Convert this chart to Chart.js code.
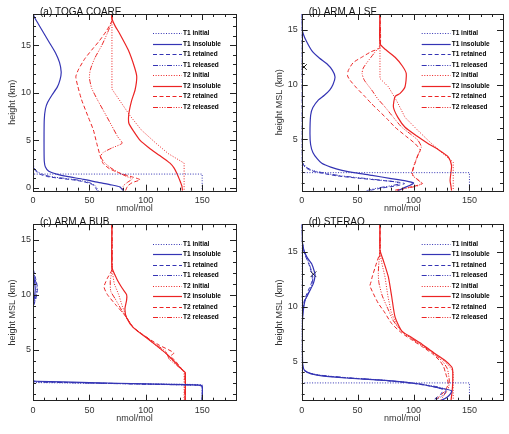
<!DOCTYPE html>
<html>
<head>
<meta charset="utf-8">
<script src="https://cdn.jsdelivr.net/npm/chart.js@4"></script>
<style>
  body { margin: 0; background: #fff; width: 509px; height: 434px; overflow: hidden; position: relative; }
  .panel { position: absolute; }
</style>
</head>
<body>
<div class="panel" style="left:0;top:0"><canvas id="chartA" width="255" height="217"></canvas></div>
<div class="panel" style="left:255px;top:0"><canvas id="chartB" width="254" height="217"></canvas></div>
<div class="panel" style="left:0;top:210px"><canvas id="chartC" width="255" height="217"></canvas></div>
<div class="panel" style="left:255px;top:210px"><canvas id="chartD" width="254" height="217"></canvas></div>
<script>
// panel titles, axis titles, ticks
const panelTitles = ["(a) TOGA COARE", "(b) ARM A LSF", "(c) ARM A BUB", "(d) STERAO"];
const yTitles = ["height (km)", "height MSL (km)", "height MSL (km)", "height MSL (km)"];
const xTitle = "nmol/mol";
const seriesLabels = ["T1 initial", "T1 insoluble", "T1 retained", "T1 released",
                      "T2 initial", "T2 insoluble", "T2 retained", "T2 released"];
const xTicks = [0, 50, 100, 150];
const yTicks = [0, 5, 10, 15];
const xRange = [0, 180];
const yRanges = [[-0.3, 18.3], [0.3, 16.45], [0.35, 16.4], [1.43, 17.5]];

// profiles as [nmol/mol, height km]
// (a) TOGA COARE
const aT1Initial = [[0,18.3],[0,1.45],[150,1.45],[150,-0.3]];
const aT1Insoluble = [[0,18.3],[2,17.8],[5,17.2],[10,16.2],[15,15.2],[20,14.2],[23.5,13.2],[25,12.2],[24,11.4],[21.5,10.6],[17,9.8],[13,9.0],[11,8.3],[10,7.2],[9.8,5.7],[9.8,4.0],[10,2.8],[11,2.2],[14,1.75],[21,1.45],[30,1.2],[45,0.9],[57,0.6],[70,0.3],[77,0.1],[80,-0.3]];
const aT1Retained = [[0,18.3],[0,2.4],[1,2.0],[3,1.7],[6,1.45],[12,1.2],[24,1.0],[38,0.8],[48,0.55],[54,0.25],[57,-0.3]];
const aT1Released = [[0.5,18.3],[0.5,2.4],[1.5,2.0],[4,1.7],[8,1.45],[15,1.2],[28,1.0],[41,0.8],[50,0.55],[55,0.25],[58,-0.3]];
const aT2Initial = [[70,18.3],[70,10.4],[78,9.0],[86,7.6],[96,6.1],[109,4.7],[120,3.6],[134,2.6],[134,-0.3]];
const aT2Insoluble = [[70,18.3],[70,17.8],[73,17.0],[77,16.2],[84.5,14.5],[90,12.7],[92,11.7],[90.5,10.3],[87.5,9.2],[85,7.8],[85,6.8],[89,6.0],[95,5.0],[103,4.2],[110,3.6],[116,3.1],[121.5,2.6],[125,2.1],[127.5,1.54],[130,0.84],[132,0.2],[132.5,-0.3]];
const aT2Retained = [[70,18.3],[70,17.6],[65,16.5],[59,15.5],[52,14.5],[46,13.6],[40.5,12.5],[38,11.7],[39.5,10.8],[43,9.3],[48.5,7.6],[53.5,6.1],[56.5,4.7],[59,3.6],[62,2.6],[68,2.0],[77,1.55],[88,1.15],[95,0.85],[88,0.55],[84,0.2],[82,-0.3]];
const aT2Released = [[70,18.3],[70,17.6],[66,16.3],[61,15],[55,13.7],[51,12.5],[50,11.6],[52,10.5],[57,9.3],[64,7.8],[70,6.5],[75,5.4],[79,4.7],[70,4.2],[62,3.7],[60,3.3],[63,2.7],[69,2.1],[76,1.6],[83,1.2],[88,0.95],[84,0.6],[80,0.2],[79.5,-0.3]];

// (b) ARM A LSF
const bT1Initial = [[0,16.45],[0,1.95],[150,1.95],[150,0.3]];
const bT1Insoluble = [[0,16.45],[0,15.2],[1.5,14.6],[4,14.0],[9,13.1],[16,12.4],[22.5,11.9],[27.5,11.3],[29.8,10.7],[28,10.0],[25,9.5],[20,9.0],[15,8.6],[10,7.9],[8,7.2],[7.4,5.5],[8,4.5],[10,3.8],[14,3.2],[18,2.8],[26,2.45],[36,2.16],[50,1.9],[63,1.7],[80,1.4],[93,1.2],[100,1.0],[97,0.8],[91,0.55],[86,0.3]];
const bT1Retained = [[0,16.45],[0,3.2],[1,2.8],[3,2.45],[8,2.15],[18,1.9],[32,1.65],[50,1.45],[70,1.25],[85,1.1],[92,0.95],[85,0.75],[72,0.55],[60,0.3]];
const bT1Released = [[0.5,16.45],[0.5,3.2],[1.5,2.8],[4,2.45],[10,2.15],[21,1.9],[36,1.65],[54,1.45],[72,1.25],[84,1.1],[88,0.95],[80,0.75],[68,0.55],[58,0.3]];
const bMarker = [[2,11.6]];
const bT2Initial = [[70,16.45],[70,10.55],[77.5,9.8],[85,8.5],[92.4,7.0],[103,5.9],[113,4.9],[124,3.9],[135.5,2.9],[135.5,0.3]];
const bT2Insoluble = [[70,16.45],[70,13.75],[75,13.2],[83.5,12.5],[90,11.7],[93.5,11.0],[92.4,9.8],[88,9.2],[83.5,8.9],[82,7.95],[86,7.0],[92.4,6.1],[103,5.3],[113.2,4.6],[123,4.0],[131,3.4],[134,2.6],[133.5,2.0],[132.7,1.24],[133.5,0.7],[134,0.3]];
const bT2Retained = [[70,16.45],[70,13.4],[62,13.0],[53.7,12.5],[46,12.0],[41.7,11.3],[41,10.8],[43.2,10.4],[49,9.7],[56.6,8.9],[62,8.3],[68.5,7.65],[76,6.9],[83.5,6.1],[93,5.3],[101.4,4.6],[106,4.0],[104,3.6],[102,3.0],[100,2.4],[99,1.9],[99.5,1.7],[104,1.3],[108,0.95],[100,0.7],[90,0.5],[82,0.3]];
const bT2Released = [[70,16.45],[70,13.6],[65,12.9],[59,12.1],[55,11.5],[54,11.0],[56,10.4],[62.6,9.5],[68,8.7],[74.5,7.95],[82,7.0],[89.5,6.1],[97,5.5],[104,4.9],[107,4.3],[105,3.8],[103,3.3],[101,2.8],[99.5,2.3],[98.5,1.9],[99,1.7],[103,1.35],[107,1.0],[104,0.75],[95,0.55],[85,0.3]];

// (c) ARM A BUB
const cT1Initial = [[0,16.4],[0,2.0],[150,1.82],[150,0.35]];
const cT1Insoluble = [[0,16.4],[0,12.3],[1,11.5],[2,10.5],[1,9.5],[0,8.7],[0,2.2],[3,2.12],[50,2.0],[100,1.88],[147,1.78],[150,1.68],[150,0.35]];
const cT1Retained = [[0,16.4],[0,12.5],[2,11.6],[4,10.6],[2.5,9.6],[0,8.8],[0,2.18],[3,2.08],[50,1.97],[100,1.86],[146,1.76],[150,1.65],[150,0.35]];
const cT1Released = [[0,16.4],[0,12.4],[1.5,11.6],[3.5,10.6],[2,9.6],[0,8.8],[0,2.15],[3,2.06],[50,1.95],[100,1.85],[146,1.75],[150,1.64],[150,0.35]];
const cT2Initial = [[70,16.4],[70,12.3],[72,11.0],[76,10.0],[79,9.0],[83,7.9],[89,7.0],[104,5.8],[118.5,4.6],[133.5,3.0],[134,2.9],[134,0.35]];
const cT2Insoluble = [[70,16.4],[70,12.5],[74,11.5],[79,10.6],[83,10.0],[83,9.5],[81.5,8.7],[83,7.9],[89,7.0],[104,5.8],[118.5,4.6],[133,3.1],[135,2.9],[135,0.35]];
const cT2Retained = [[70,16.4],[70,12.3],[66,11.5],[63,10.7],[66,10.0],[74,9.0],[80,8.3],[83,7.9],[89,7.0],[98,6.3],[112,5.4],[125,4.7],[122,4.4],[126,4.0],[133,3.1],[135,2.9],[135,0.35]];
const cT2Released = [[70,16.4],[70,12.3],[68.5,11.2],[69,10.3],[73,9.6],[78,8.7],[83,7.9],[89,7.0],[100,6.2],[110,5.4],[118,4.8],[120,4.3],[121,4.1],[133,3.1],[134.5,2.9],[134.5,0.35]];

// (d) STERAO
const dT1Initial = [[0,17.5],[0,3.05],[150,3.05],[150,1.43]];
const dT1Insoluble = [[0,17.5],[0.5,16.0],[1.5,15.3],[3,14.85],[6,14.3],[8.9,13.9],[11.3,13.2],[11.9,12.8],[10.4,12.1],[7.5,11.5],[5,11.0],[3,10.6],[1.5,9.7],[0.6,8.5],[0.6,6.6],[0.8,4.9],[1.5,4.4],[3,4.15],[8,3.9],[18,3.7],[40,3.5],[77.5,3.26],[105,2.95],[125,2.55],[134,2.34],[133,2.05],[129.7,1.73],[124,1.43]];
const dT1Retained = [[0,17.5],[0.5,16.0],[1.5,15.3],[3,14.7],[6,14.0],[8.5,13.2],[9.5,12.7],[8.5,12.1],[6,11.5],[3.5,10.9],[2,10.4],[1,9.7],[0.6,8.5],[0.6,5],[1,4.5],[2,4.2],[6,3.95],[15,3.75],[35,3.55],[70,3.3],[100,3.0],[118,2.7],[126,2.45],[125,2.1],[121,1.75],[117,1.43]];
const dT1Released = [[0,17.5],[0.5,16.0],[2,15.2],[4,14.6],[7,13.8],[9.5,13.0],[10,12.6],[9,12.0],[6.5,11.4],[4,10.8],[2.2,10.3],[1,9.7],[0.6,8.5],[0.6,5],[1,4.5],[2.5,4.2],[7,3.95],[17,3.75],[38,3.55],[73,3.3],[103,3.0],[121,2.7],[129,2.45],[128,2.1],[124,1.75],[119,1.43]];
const dMarker = [[10.5,12.95]];
const dT2Initial = [[70,17.5],[70,14.8],[72,13.8],[74.5,12.7],[77,11.0],[80,9.5],[85,8.3],[92,7.5],[106,6.6],[118,5.8],[128,5.0],[134,4.3],[135.5,4.0],[135.5,1.43]];
const dT2Insoluble = [[70,17.5],[70,15.15],[73,14.2],[77.5,12.7],[80.5,10.9],[83.5,9.05],[89.4,7.8],[98,7.2],[107.3,6.6],[118,5.8],[128.2,5.1],[134.2,4.5],[135,4.2],[135,3.0],[134.5,2.3],[133.5,1.43]];
const dT2Retained = [[70,17.5],[70,15.0],[67,14.0],[63,12.7],[62,12.25],[61,11.9],[64,11.2],[68.5,10.3],[74,9.5],[80.5,8.45],[89.4,7.6],[98,7.0],[107,6.4],[117,5.7],[124,5.0],[127,4.5],[128.5,4.0],[129.7,3.6],[131,2.95],[128,2.3],[123,1.8],[119,1.43]];
const dT2Released = [[70,17.5],[70,15.0],[69,14.0],[68.5,13.0],[69,12.2],[72,11.0],[77.5,9.7],[82,8.7],[89,7.8],[98,7.1],[107,6.5],[117,5.8],[126,5.0],[130,4.4],[131,4.0],[132,3.2],[131,2.5],[127,1.9],[124,1.43]];

const blue = "#3434b4";
const red = "#ec2424";
const lineDashes = [[1, 1.6], [], [4, 2.5], [5, 1.5, 1, 1.5, 1, 1.5, 1, 1.5]];

function toPoints(arr) {
    return arr.map(p => ({ x: p[0], y: p[1] }));
}

function buildDatasets(series, marker) {
    let sets = series.map((arr, i) => ({
        label: seriesLabels[i],
        data: toPoints(arr),
        showLine: true,
        borderColor: i < 4 ? blue : red,
        borderWidth: i % 4 === 1 ? 1.2 : 1,
        borderDash: lineDashes[i % 4],
        tension: i % 4 === 0 ? 0 : 0.2,
        pointRadius: 0
    }));
    if (marker) {
        sets.push({
            label: "",
            data: toPoints(marker),
            showLine: false,
            pointStyle: "crossRot",
            pointRadius: 4,
            pointBorderColor: "#111",
            pointBorderWidth: 1
        });
    }
    return sets;
}

// frame with inward ticks on all sides, IDL style
const framePlugin = {
    id: "frame",
    afterDatasetsDraw(chart) {
        const { ctx, chartArea: a, scales } = chart;
        const xs = scales.x, ys = scales.y;
        ctx.save();
        ctx.strokeStyle = "#222";
        ctx.lineWidth = 1;
        ctx.strokeRect(Math.round(a.left) + 0.5, Math.round(a.top) + 0.5,
                       Math.round(a.right - a.left), Math.round(a.bottom - a.top));
        ctx.beginPath();
        for (let v = xRange[0]; v <= xRange[1]; v += 10) {
            const len = xTicks.includes(v) ? 6 : 3;
            const px = Math.round(xs.getPixelForValue(v)) + 0.5;
            ctx.moveTo(px, a.bottom); ctx.lineTo(px, a.bottom - len);
            ctx.moveTo(px, a.top); ctx.lineTo(px, a.top + len);
        }
        for (let h = Math.ceil(ys.min); h <= ys.max; h += 1) {
            const len = yTicks.includes(h) ? 6 : 3;
            const py = Math.round(ys.getPixelForValue(h)) + 0.5;
            ctx.moveTo(a.left, py); ctx.lineTo(a.left + len, py);
            ctx.moveTo(a.right, py); ctx.lineTo(a.right - len, py);
        }
        ctx.stroke();
        ctx.restore();
    },
    afterDraw(chart, args, opts) {
        const { ctx, chartArea: a } = chart;
        ctx.save();
        // panel title sitting on the top border
        ctx.fillStyle = "#111";
        ctx.font = "10px 'Liberation Sans', Arial, sans-serif";
        ctx.textBaseline = "alphabetic";
        ctx.fillText(opts.title, a.left + 7, a.top + 0.5);
        // legend inside the plot area
        ctx.font = "bold 6.5px 'Liberation Sans', Arial, sans-serif";
        ctx.textBaseline = "middle";
        chart.data.datasets.forEach((ds, i) => {
            if (!ds.label) return;
            const y = Math.round(a.top + 19.3 + i * 10.53) + 0.5;
            const x0 = a.left + 120;
            ctx.strokeStyle = ds.borderColor;
            ctx.lineWidth = ds.borderWidth;
            ctx.setLineDash(ds.borderDash);
            ctx.beginPath();
            ctx.moveTo(x0, y); ctx.lineTo(x0 + 29, y);
            ctx.stroke();
            ctx.setLineDash([]);
            ctx.fillStyle = "#000";
            ctx.fillText(ds.label, x0 + 30, y);
        });
        ctx.restore();
    }
};

function makePanel(id, idx, series, marker) {
    const isLeft = idx % 2 === 0;
    const yWidth = isLeft ? 33 : 46.7;
    const titlePad = isLeft ? 6.9 : 19.6;
    const labelFont = { family: "'Liberation Sans', Arial, sans-serif", size: 9 };
    new Chart(document.getElementById(id), {
        type: "scatter",
        data: { datasets: buildDatasets(series, marker) },
        options: {
            responsive: false,
            animation: false,
            layout: { padding: { left: 0, top: idx < 2 ? 14 : 14.3, right: isLeft ? 19 : 6, bottom: 0 } },
            scales: {
                x: {
                    type: "linear",
                    min: xRange[0],
                    max: xRange[1],
                    grid: { display: false, drawTicks: false },
                    border: { display: false },
                    afterBuildTicks: s => { s.ticks = xTicks.map(v => ({ value: v })); },
                    afterFit: s => { s.height = 26.3; s.paddingLeft = 0; s.paddingRight = 0; },
                    ticks: { padding: 4, font: labelFont, color: "#333", maxRotation: 0, autoSkip: false },
                    title: { display: true, text: xTitle, font: labelFont, color: "#333", padding: { top: 0, bottom: 3 } }
                },
                y: {
                    type: "linear",
                    min: yRanges[idx][0],
                    max: yRanges[idx][1],
                    grid: { display: false, drawTicks: false },
                    border: { display: false },
                    afterBuildTicks: s => { s.ticks = yTicks.filter(v => v >= s.min && v <= s.max).map(v => ({ value: v })); },
                    afterFit: s => { s.width = yWidth; s.paddingTop = 0; s.paddingBottom = 0; },
                    ticks: { padding: isLeft ? 2 : 4, font: labelFont, color: "#333", autoSkip: false },
                    title: { display: true, text: yTitles[idx], font: labelFont, color: "#333", padding: { top: titlePad, bottom: 0 } }
                }
            },
            plugins: {
                legend: { display: false },
                tooltip: { enabled: false },
                frame: { title: panelTitles[idx] }
            }
        },
        plugins: [framePlugin]
    });
}

document.addEventListener("DOMContentLoaded", function () {
    makePanel("chartA", 0, [aT1Initial, aT1Insoluble, aT1Retained, aT1Released, aT2Initial, aT2Insoluble, aT2Retained, aT2Released]);
    makePanel("chartB", 1, [bT1Initial, bT1Insoluble, bT1Retained, bT1Released, bT2Initial, bT2Insoluble, bT2Retained, bT2Released], bMarker);
    makePanel("chartC", 2, [cT1Initial, cT1Insoluble, cT1Retained, cT1Released, cT2Initial, cT2Insoluble, cT2Retained, cT2Released]);
    makePanel("chartD", 3, [dT1Initial, dT1Insoluble, dT1Retained, dT1Released, dT2Initial, dT2Insoluble, dT2Retained, dT2Released], dMarker);
});
</script>
</body>
</html>
